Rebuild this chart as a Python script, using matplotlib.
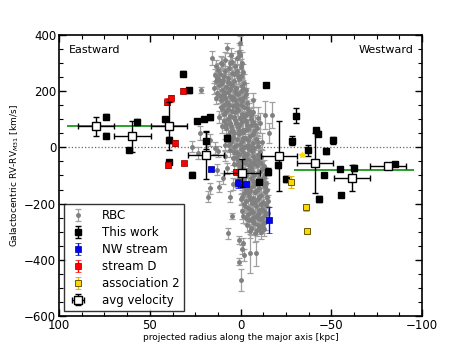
import matplotlib
matplotlib.use("Agg")
import matplotlib.pyplot as plt
from matplotlib.ticker import MultipleLocator, AutoMinorLocator

# ---------------- data ----------------
rbc_x = [0.3, 7.3, 1.0, 15.6, 4.8, 0.5, 13.5, 10.2, 6.5, 3.0, -0.5, 8.4, 11.5, 5.0, 1.8, -1.5,
         13.1, 9.5, 6.8, 3.5, 0.8, -2.0, 12.0, 8.2, 5.5, 2.5, -0.8, 21.9, 10.5, 14.5, -3.0,
         12.8, 9.8, 6.9, 4.0, 1.2, -1.9, 11.0, 7.7, 4.8, 2.0, -1.0, -3.5, 13.5, 0.0,
         10.6, 7.2, 4.1, 1.5, -1.8, -4.5, 9.0, 5.8, 2.9, 0.2, -3.0, -7.0, -13.5, -17.2, -9.6, 11.8, -5.5,
         9.3, 6.0, 3.2, 0.4, -2.8, -5.6, -10.8, 7.8, 4.5, 1.6, -1.3, -4.2, -7.4, -15.4, -8.0, 22.2, 10.5,
         7.0, 4.0, 1.0, -2.2, -5.0, -8.3, 16.8, 5.5, 2.6, -0.6, -3.8, -6.6, -9.5, 26.6, 14.0, 8.8, -12.0,
         5.8, 2.8, -0.3, -3.5, -6.5, -9.4, 23.2, 12.2, 4.4, 1.2, -2.0, -5.2, -8.2, -11.3, 8.5,
         3.6, 0.5, -2.7, -5.9, -9.0, -12.0, 13.1, 2.2, -1.0, -4.3, -7.5, -10.6, -13.5, 7.5,
         9.5, 0.8, -2.4, -5.6, -8.8, -11.8, -14.2, 12.1, -0.8, -4.0, -7.2, -10.4, -13.4, 4.0,
         17.7, 5.7, -1.6, -4.8, -8.0, -11.2, -14.5, -3.0, -6.2, -9.4, -12.6, 16.8, 0.0,
         -2.5, -5.5, -8.7, -11.8, -14.0, 4.9, -4.0, -7.2, -10.3, -13.5, -0.5,
         -4.5, -7.6, -10.7, -13.3, -6.0, -9.0, -12.0, 6.7, -3.5, -8.0, -11.5,
         0.7, -1.5, -0.6, -1.9, 0.7, -5.2, -8.5, -0.1,
         3.0, 6.2, 9.0, -1.2, -4.0, -6.8, 2.0, -2.6, -5.0, -9.8, -3.2, -7.0, -11.0, 0.0, -6.0]
rbc_y = [372, 352, 340, 318, 305, 328, 288, 296, 282, 290, 300, 270, 262, 265, 272, 268,
         246, 240, 248, 236, 244, 230, 222, 215, 226, 210, 218, 204, 205, 210, 205,
         192, 185, 196, 180, 190, 178, 168, 160, 172, 155, 165, 157, 175, 200,
         145, 138, 148, 132, 142, 128, 120, 112, 125, 105, 115, 127, 115, 115, 104, 108, 102,
         95, 88, 98, 82, 92, 78, 86, 68, 60, 72, 55, 65, 58, 50, 80, 50, 75,
         45, 38, 48, 32, 42, 30, 26, 18, 10, 22, 6, 15, 4, 2, -2, 8, 20,
         -8, -18, -5, -22, -12, -28, -20, -14, -38, -45, -32, -48, -40, -35, -30,
         -58, -68, -55, -72, -62, -78, -80, -88, -96, -82, -98, -85, -95, -75,
         -110, -112, -122, -108, -128, -115, -125, -140, -138, -148, -135, -145, -140, -130,
         -175, -175, -162, -172, -158, -168, -178, -192, -198, -185, -195, -145, -185,
         -210, -222, -208, -218, -205, -244, -238, -246, -232, -242, -228,
         -258, -270, -255, -265, -285, -295, -280, -306, -275, -305, -300,
         -330, -341, -363, -383, -407, -377, -377, -472,
         150, 230, 185, 60, 10, -60, -20, -105, -155, -250, 120, 170, -200, 255, -230]
rbc_err = [25, 18, 30, 25, 30, 35, 22, 25, 30, 28, 40, 20, 25, 30, 25, 30,
           22, 25, 30, 20, 25, 30, 20, 25, 30, 25, 30, 12, 25, 20, 25,
           25, 20, 25, 30, 25, 25, 25, 20, 25, 30, 25, 35, 20, 20,
           25, 20, 25, 30, 25, 30, 20, 25, 25, 30, 25, 45, 50, 45, 40, 20, 30,
           25, 20, 25, 25, 30, 30, 35, 25, 20, 25, 30, 25, 30, 35, 35, 25, 25,
           25, 20, 25, 25, 30, 25, 20, 25, 20, 25, 30, 25, 30, 20, 20, 20, 30,
           25, 20, 25, 25, 30, 25, 20, 20, 25, 20, 25, 25, 30, 30, 20,
           25, 20, 25, 25, 30, 30, 20, 25, 20, 25, 25, 30, 25, 20,
           20, 25, 25, 20, 25, 30, 25, 20, 25, 20, 25, 25, 30, 20,
           20, 20, 25, 20, 25, 25, 30, 25, 20, 25, 25, 20, 20,
           25, 20, 25, 25, 30, 12, 25, 20, 25, 25, 25,
           20, 25, 25, 30, 25, 20, 25, 20, 25, 30, 25,
           15, 20, 15, 20, 12, 70, 45, 40,
           25, 25, 25, 25, 25, 25, 25, 25, 25, 25, 25, 25, 25, 25, 25]

# second batch of RBC stars in the dense core
rbc2_x = [2.2, 5.5, 8.8, 11.0, 3.8, 9.0, 12.6, 0.0, 6.0, 14.2,
          1.5, 4.5, 7.0, 10.0, 13.5, -1.5, 3.2, 6.0, 9.2, 11.8,
          0.5, 3.0, 5.8, 8.5, 11.5, -2.8, 2.5, 6.2, 9.2, -0.2,
          -3.8, -0.5, 2.2, 5.0, 8.0, 10.5, -6.0, 3.8, 6.8, -2.0,
          -6.8, -3.8, -0.8, 2.5, 5.2, 8.2, -9.2, -2.5, 0.8, 3.4, 6.0,
          -7.0, -4.0, -1.2, 1.8, 4.5, -9.8, -6.0, -1.8, 0.5, 3.5, 6.2,
          -10.5, -7.5, -4.8, -1.5, 1.0, 3.8, -9.8, -6.8, -3.8, -0.8, 2.5,
          -11.0, -7.5, -4.5, -1.5, 1.5, -13.0, -9.8, -6.2, -3.0, 0.0,
          -13.0, -10.0, -7.0, -4.0, -1.0, 1.8, -12.2, -9.0, -6.0, -2.8, -14.8,
          -13.5, -10.0, -7.0, -4.0, -1.0, -15.0, -11.5, -8.0, -5.0, -2.0,
          -13.0, -10.0, -7.0, -4.0, -1.5, -15.0, -12.0, -9.0, -6.0, -3.0,
          -12.5, -10.0, -7.0, -5.0, -13.0, -9.5]
rbc2_y = [318, 330, 310, 300, 262, 255, 275, 285, 300, 258,
          252, 220, 232, 228, 236, 212, 202, 207, 198, 240,
          172, 168, 184, 176, 182, 190, 192, 152, 150, 150,
          140, 118, 140, 130, 128, 135, 115, 108, 102, 108,
          90, 78, 95, 85, 75, 82, 70, 62, 58, 52, 55,
          48, 25, 35, 30, 28, 18, 0, 2, 12, 0, 10,
          -15, -2, -5, -15, -25, -15, -45, -30, -40, -50, -35,
          -55, -52, -62, -78, -60, -68, -90, -88, -100, -85,
          -105, -110, -118, -125, -105, -120, -132, -150, -142, -150, -150,
          -160, -178, -180, -160, -175, -190, -200, -195, -185, -200,
          -225, -222, -230, -215, -245, -235, -250, -240, -255, -250,
          -268, -285, -262, -298, -290, -275]
rbc2_err = [25, 22, 28, 25, 25, 22, 25, 30, 25, 22,
            25, 22, 28, 25, 25, 22, 25, 30, 25, 22,
            25, 22, 28, 25, 25, 22, 25, 30, 25, 22,
            25, 22, 28, 25, 25, 22, 25, 30, 25, 22,
            25, 22, 28, 25, 25, 22, 25, 30, 25, 22, 25,
            25, 22, 28, 25, 25, 22, 25, 30, 25, 22, 25,
            25, 22, 28, 25, 25, 22, 25, 30, 25, 22, 25,
            25, 22, 28, 25, 25, 22, 25, 30, 25, 22,
            25, 22, 28, 25, 25, 22, 25, 30, 25, 22, 25,
            25, 22, 28, 25, 25, 22, 25, 30, 25, 22,
            25, 22, 28, 25, 25, 22, 25, 30, 25, 22,
            25, 22, 28, 25, 25, 22]

tw_x = [74.1, 74.4, 57.0, 61.6, 31.6, 28.3, 41.7, 39.2, 39.7, 24.0, 20.0, 17.1, 19.0, 7.5, 26.8,
        -14.0, -30.7, -28.1, -20.6, -14.9, -10.1, -25.0, -37.0, -41.4, -42.8, -47.2, -50.9,
        -54.6, -45.8, -43.2, -55.1, -62.7, -85.3]
tw_y = [109, 42, 90, -10, 262, 203, 100, 27, -52, 93, 101, 107, 24, 33, -97,
        221, 112, 23, -62, -86, -124, -112, -11, 61, 49, -12, 25,
        -77, -98, -184, -169, -74, -59]
tw_err = [8, 8, 10, 8, 8, 8, 8, 10, 8, 8, 8, 8, 30, 12, 8,
          8, 27, 16, 10, 12, 8, 10, 18, 8, 8, 10, 12,
          8, 8, 12, 8, 10, 8]

nw_x = [16.3, 1.2, -2.9, -15.6]
nw_y = [-77, -128, -130, -258]
nw_err = [8, 15, 8, 45]

sd_x = [40.3, 38.5, 31.5, 36.4, 39.8, 31.0, 2.6]
sd_y = [163, 175, 202, 15, -63, -56, -86]
sd_err = [12, 12, 8, 10, 12, 8, 8]

a2_x = [-27.9, -36.0, -36.6]
a2_y = [-123, -213, -297]
a2_err = [22, 12, 8]
a2s_x = [-34.0]
a2s_y = [-28]

avg_x = [79.8, 59.6, 39.4, 19.1, -0.8, -21.0, -41.0, -61.2, -81.3]
avg_y = [75, 40, 76, -27, -92, -31, -56, -108, -66]
avg_xerr = [10, 10, 10, 10, 10, 10, 10, 10, 10]
avg_yerr = [33, 55, 85, 85, 50, 125, 108, 46, 10]

green_left_x = [95, 30]
green_left_y = [77, 77]
green_right_x = [-30, -95]
green_right_y = [-80, -80]

# ---------------- figure ----------------
fig = plt.figure(figsize=(4.69, 3.52), dpi=100)
ax = fig.add_axes([0.126, 0.102, 0.774, 0.799])

ax.plot([95, -95], [0, 0], ls=':', color='0.4', lw=0.9, zorder=1)

ax.errorbar(rbc2_x, rbc2_y, yerr=rbc2_err, fmt='o', color='#808080', ms=2.5,
            ecolor='#a0a0a0', elinewidth=0.9, capsize=2, capthick=0.9, zorder=2)
ax.errorbar(rbc_x, rbc_y, yerr=rbc_err, fmt='o', color='#808080', ms=2.5,
            ecolor='#a0a0a0', elinewidth=0.9, capsize=2, capthick=0.9, zorder=2, label='RBC')

ax.plot(green_left_x, green_left_y, color='#2ca02c', lw=1.4, zorder=3)
ax.plot(green_right_x, green_right_y, color='#2ca02c', lw=1.4, zorder=3)

ax.errorbar(tw_x, tw_y, yerr=tw_err, fmt='s', color='black', ms=4.5, ecolor='black',
            elinewidth=1, capsize=2, zorder=4, label='This work')
ax.errorbar(nw_x, nw_y, yerr=nw_err, fmt='s', color='blue', mec='#000080', mew=0.5, ms=4.5,
            ecolor='blue', elinewidth=1, capsize=2, zorder=5, label='NW stream')
ax.errorbar(sd_x, sd_y, yerr=sd_err, fmt='s', color='red', mec='#800000', mew=0.5, ms=4.5,
            ecolor='red', elinewidth=1, capsize=2, zorder=5, label='stream D')
ax.errorbar(a2_x, a2_y, yerr=a2_err, fmt='s', color='#ffd700', mec='#6b5a00', mew=0.7, ms=4.5,
            ecolor='#e0b800', elinewidth=1, capsize=2, zorder=5, label='association 2')
ax.plot(a2s_x, a2s_y, '*', color='#ffd700', ms=4, zorder=5)

ax.errorbar(avg_x, avg_y, xerr=avg_xerr, yerr=avg_yerr, fmt='s', mfc='white', mec='black',
            mew=1.0, ms=6, ecolor='black', elinewidth=1, capsize=2.5, zorder=6,
            label='avg velocity')

ax.set_xlim(100, -100)
ax.set_ylim(-600, 400)
ax.xaxis.set_major_locator(MultipleLocator(50))
ax.yaxis.set_major_locator(MultipleLocator(200))
ax.xaxis.set_minor_locator(AutoMinorLocator(4))
ax.yaxis.set_minor_locator(AutoMinorLocator(4))
ax.tick_params(which='both', direction='in', top=True, right=True, labelsize=8.5, pad=2)
ax.tick_params(which='major', length=5, width=1)
ax.tick_params(which='minor', length=3, width=0.8)
for s in ax.spines.values():
    s.set_linewidth(1.2)

ax.set_xlabel('projected radius along the major axis [kpc]', fontsize=6.5, labelpad=1)
ax.set_ylabel(r'Galactocentric RV-RV$_{M31}$ [km/s]', fontsize=6.5, labelpad=2)

ax.text(0.028, 0.965, 'Eastward', transform=ax.transAxes, fontsize=8, va='top', ha='left')
ax.text(0.975, 0.965, 'Westward', transform=ax.transAxes, fontsize=8, va='top', ha='right')

leg = ax.legend(loc='lower left', fontsize=8.5, frameon=True, fancybox=False,
                edgecolor='black', borderaxespad=0.4, labelspacing=0.33,
                handletextpad=1.2, borderpad=0.4, handlelength=1.6)
leg.get_frame().set_linewidth(1.0)

fig.savefig('out.png', dpi=100)
